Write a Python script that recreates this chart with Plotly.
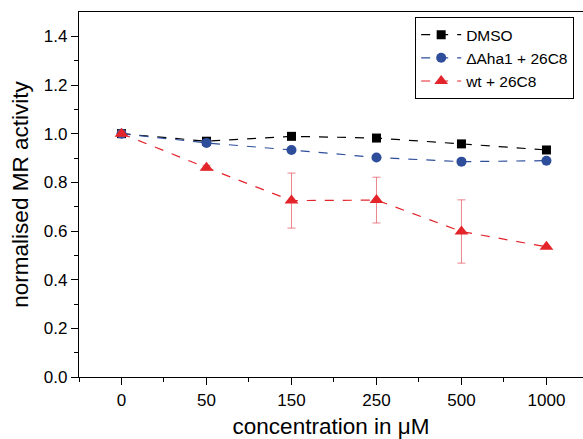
import plotly.graph_objects as go

categories = ["0", "50", "150", "250", "500", "1000"]
dmso = [1.0, 0.969, 0.989, 0.982, 0.958, 0.933]
aha1 = [1.0, 0.962, 0.933, 0.902, 0.885, 0.889]
wt = [1.0, 0.86, 0.725, 0.727, 0.598, 0.535]
wt_err = [0.01, 0.01, 0.113, 0.094, 0.13, 0.0]

xs = list(range(len(categories)))
font = "Liberation Sans, Arial, sans-serif"

fig = go.Figure()
fig.add_trace(go.Scatter(
    x=xs, y=dmso, name="DMSO", mode="lines+markers",
    line=dict(color="black", dash="dash", width=1.2),
    marker=dict(symbol="square", size=9, color="black"),
))
fig.add_trace(go.Scatter(
    x=xs, y=aha1, name="ΔAha1 + 26C8", mode="lines+markers",
    line=dict(color="#2E4D9B", dash="dash", width=1.2),
    marker=dict(symbol="circle", size=10, color="#2E4D9B"),
))
fig.add_trace(go.Scatter(
    x=xs, y=wt, name="wt + 26C8", mode="lines+markers",
    line=dict(color="#E3242B", dash="dash", width=1.2),
    marker=dict(symbol="triangle-up", size=12, color="#E3242B"),
    error_y=dict(type="data", array=wt_err, visible=True,
                 color="rgba(230,90,100,0.75)", thickness=1, width=4),
))

fig.update_layout(
    width=583, height=439,
    margin=dict(l=79, r=0, t=12, b=62),
    paper_bgcolor="white", plot_bgcolor="white",
    font=dict(family=font, size=17, color="black"),
    showlegend=True,
    legend=dict(
        x=0.667, y=0.986, xanchor="left", yanchor="top",
        bordercolor="black", borderwidth=1, bgcolor="white",
        font=dict(family=font, size=15.5, color="black"),
        tracegroupgap=0, itemwidth=40,
    ),
)
fig.update_xaxes(
    range=[-0.5, 5.43],
    tickmode="array", tickvals=xs, ticktext=categories,
    showline=True, linecolor="black", linewidth=1.2, mirror=True,
    ticks="outside", ticklen=7, tickcolor="black",
    minor=dict(tickvals=[i + 0.5 for i in range(-1, 6)], ticks="outside", ticklen=4, tickcolor="black"),
    showgrid=False, zeroline=False,
    title=dict(text="concentration in μM", font=dict(family=font, size=22.5), standoff=12),
    tickfont=dict(family=font, size=17),
)
fig.update_yaxes(
    range=[0, 1.5],
    tickmode="array", tickvals=[0, 0.2, 0.4, 0.6, 0.8, 1.0, 1.2, 1.4],
    ticktext=["0.0", "0.2", "0.4", "0.6", "0.8", "1.0", "1.2", "1.4"],
    showline=True, linecolor="black", linewidth=1.2,
    ticks="outside", ticklen=7, tickcolor="black",
    minor=dict(tickvals=[0.1, 0.3, 0.5, 0.7, 0.9, 1.1, 1.3], ticks="outside", ticklen=4, tickcolor="black"),
    showgrid=False, zeroline=False,
    title=dict(text="normalised MR activity", font=dict(family=font, size=22.5), standoff=8),
    tickfont=dict(family=font, size=17),
)

fig.write_html("out.html")
